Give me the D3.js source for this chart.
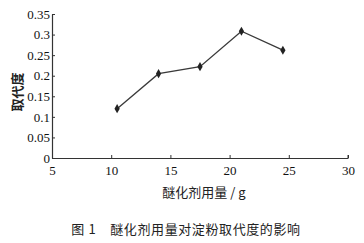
<!DOCTYPE html>
<html>
<head>
<meta charset="utf-8">
<script src="https://cdn.jsdelivr.net/npm/d3@7"></script>
<style>
body { margin: 0; background: #fff; }
svg { display: block; }
</style>
</head>
<body>
<svg id="canvas" width="364" height="243"></svg>
<script>
// amount of etherifying agent (g) and degree of substitution
let amounts = [10.5, 14, 17.5, 21, 24.5];
let degrees = [0.12, 0.205, 0.222, 0.308, 0.262];
let xTicks = [5, 10, 15, 20, 25, 30];
let yTicks = [0, 0.05, 0.1, 0.15, 0.2, 0.25, 0.3, 0.35];

const svg = d3.select('#canvas');
const serif = '"Liberation Serif", "DejaVu Serif", serif';
const cjk = '"Noto Sans CJK SC", sans-serif';
const ink = '#333';

let x = d3.scaleLinear().domain([5, 30]).range([52, 348]);
let y = d3.scaleLinear().domain([0, 0.35]).range([158, 14]);

// axes, ticks pointing inward
let xAxis = svg.append('g')
    .attr('transform', 'translate(0,158)')
    .call(d3.axisBottom(x).tickValues(xTicks).tickSize(-3).tickSizeOuter(0).tickPadding(8));
let yAxis = svg.append('g')
    .attr('transform', 'translate(52,0)')
    .call(d3.axisLeft(y).tickValues(yTicks).tickSize(-3).tickSizeOuter(0).tickPadding(2)
        .tickFormat(d => d3.format('')(+d.toFixed(2))));

[xAxis, yAxis].forEach(a => {
    a.attr('font-family', null);
    a.select('.domain').attr('stroke', ink).attr('stroke-width', 1.2);
    a.selectAll('.tick line').attr('stroke', ink);
    a.selectAll('text').attr('fill', '#111')
        .style('font-family', serif).style('font-size', '13px');
});
// right end cap on x-axis
svg.append('line')
    .attr('x1', x(30)).attr('x2', x(30))
    .attr('y1', 158).attr('y2', 155)
    .attr('stroke', ink);

let points = amounts.map((a, i) => ({a: a, d: degrees[i]}));

svg.append('path')
    .datum(points)
    .attr('fill', 'none')
    .attr('stroke', '#3a3a3a')
    .attr('stroke-width', 1.3)
    .attr('d', d3.line().x(p => x(p.a)).y(p => y(p.d)));

svg.selectAll('path.mark')
    .data(points)
    .join('path')
    .attr('class', 'mark')
    .attr('transform', p => `translate(${x(p.a)},${y(p.d)})`)
    .attr('d', d3.symbol().type(d3.symbolDiamond).size(24))
    .attr('fill', '#222');

// axis titles
svg.append('text')
    .attr('transform', 'translate(22,92) rotate(-90)')
    .attr('text-anchor', 'middle')
    .style('font-family', cjk).style('font-size', '13px').style('font-weight', 'bold')
    .attr('fill', '#222')
    .text('取代度');

svg.append('text')
    .attr('x', 204).attr('y', 197)
    .attr('text-anchor', 'middle')
    .style('font-family', cjk).style('font-size', '13px')
    .attr('fill', '#222')
    .text('醚化剂用量 / g');

svg.append('text')
    .attr('x', 186).attr('y', 234)
    .attr('text-anchor', 'middle')
    .style('font-family', cjk).style('font-size', '13px')
    .style('letter-spacing', '0.6px')
    .attr('fill', '#222')
    .attr('xml:space', 'preserve')
    .text('图 1    醚化剂用量对淀粉取代度的影响');
</script>
</body>
</html>
